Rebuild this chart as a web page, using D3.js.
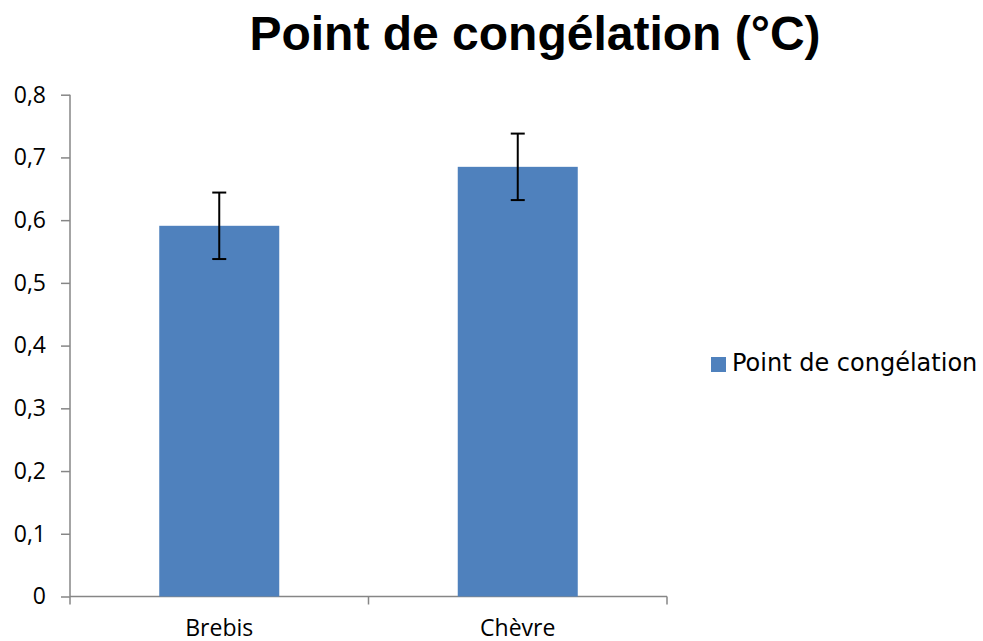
<!doctype html>
<html>
<head>
<meta charset="utf-8">
<title>Point de congélation</title>
<script src="https://cdn.jsdelivr.net/npm/d3@7"></script>
<style>
  body { margin: 0; background: #fff; }
  svg { display: block; }
</style>
</head>
<body>
<script>
  // data
  var categories = ["Brebis", "Chèvre"];
  var values = [0.591, 0.685];
  var errors = [0.053, 0.053];
  var yTicks = [0, 0.1, 0.2, 0.3, 0.4, 0.5, 0.6, 0.7, 0.8];
  var seriesName = "Point de congélation";
  var title = "Point de congélation (°C)";

  var width = 983, height = 641;
  var plotLeft = 70, plotRight = 667, plotTop = 94.7, plotBottom = 596.5;
  var axisColor = "#868686";
  var barColor = "#4F81BD";

  var svg = d3.select("body").append("svg")
    .attr("width", width)
    .attr("height", height);

  var x = d3.scaleBand().domain(categories).range([plotLeft, plotRight]).padding(0);
  var y = d3.scaleLinear().domain([0, 0.8]).range([plotBottom, plotTop]);
  var fmt = function (d) { return d === 0 ? "0" : d3.format(".1f")(d).replace(".", ","); };

  svg.append("text")
    .attr("x", 535)
    .attr("y", 50)
    .attr("text-anchor", "middle")
    .style("font-family", "'Liberation Sans', Arial, sans-serif")
    .style("font-weight", "bold")
    .style("font-size", "48px")
    .text(title);

  // y axis
  var yAxis = d3.axisLeft(y).tickValues(yTicks).tickFormat(fmt).tickSize(9).tickPadding(15);
  var gy = svg.append("g").attr("transform", "translate(" + plotLeft + ",0)").call(yAxis);
  gy.select(".domain").attr("stroke", axisColor).attr("stroke-width", 1.5).attr("d", "M0," + plotTop + "V" + plotBottom);
  gy.selectAll(".tick line").attr("stroke", axisColor).attr("stroke-width", 1.5);
  gy.selectAll(".tick text")
    .attr("fill", "#000")
    .style("font-family", "'Open Sans', sans-serif")
    .style("font-size", "23px");

  // x axis with ticks at category boundaries
  var bounds = categories.map(function (c) { return x(c); }).concat([plotRight]);
  var gx = svg.append("g").attr("transform", "translate(0," + plotBottom + ")");
  gx.append("path")
    .attr("d", "M" + plotLeft + ",0H" + plotRight)
    .attr("stroke", axisColor).attr("stroke-width", 1.5).attr("fill", "none");
  gx.selectAll("line.b").data(bounds).enter().append("line")
    .attr("class", "b")
    .attr("x1", function (d) { return d; }).attr("x2", function (d) { return d; })
    .attr("y1", 0).attr("y2", 8)
    .attr("stroke", axisColor).attr("stroke-width", 1.5);
  gx.selectAll("text").data(categories).enter().append("text")
    .attr("x", function (d) { return x(d) + x.bandwidth() / 2; })
    .attr("y", 39)
    .attr("text-anchor", "middle")
    .style("font-family", "'Open Sans', sans-serif")
    .style("font-size", "23px")
    .text(function (d) { return d; });

  // bars
  var barW = x.bandwidth() * 0.402;
  svg.selectAll("rect.bar").data(categories).enter().append("rect")
    .attr("class", "bar")
    .attr("x", function (d) { return x(d) + (x.bandwidth() - barW) / 2; })
    .attr("y", function (d, i) { return y(values[i]); })
    .attr("width", barW)
    .attr("height", function (d, i) { return y(0) - y(values[i]); })
    .attr("fill", barColor);

  // error bars
  var eb = svg.selectAll("g.err").data(categories).enter().append("g")
    .attr("class", "err")
    .attr("transform", function (d) { return "translate(" + (x(d) + x.bandwidth() / 2) + ",0)"; });
  eb.append("line")
    .attr("y1", function (d, i) { return y(values[i] + errors[i]); })
    .attr("y2", function (d, i) { return y(values[i] - errors[i]); })
    .attr("stroke", "#000").attr("stroke-width", 2);
  [1, -1].forEach(function (s) {
    eb.append("line")
      .attr("x1", -7).attr("x2", 7)
      .attr("y1", function (d, i) { return y(values[i] + s * errors[i]); })
      .attr("y2", function (d, i) { return y(values[i] + s * errors[i]); })
      .attr("stroke", "#000").attr("stroke-width", 2);
  });

  // legend
  var lg = svg.append("g").attr("transform", "translate(711,357)");
  lg.append("rect").attr("width", 15).attr("height", 15).attr("fill", barColor);
  lg.append("text")
    .attr("x", 21).attr("y", 14)
    .style("font-family", "'DejaVu Sans', sans-serif")
    .style("font-size", "24px")
    .text(seriesName);
</script>
</body>
</html>
